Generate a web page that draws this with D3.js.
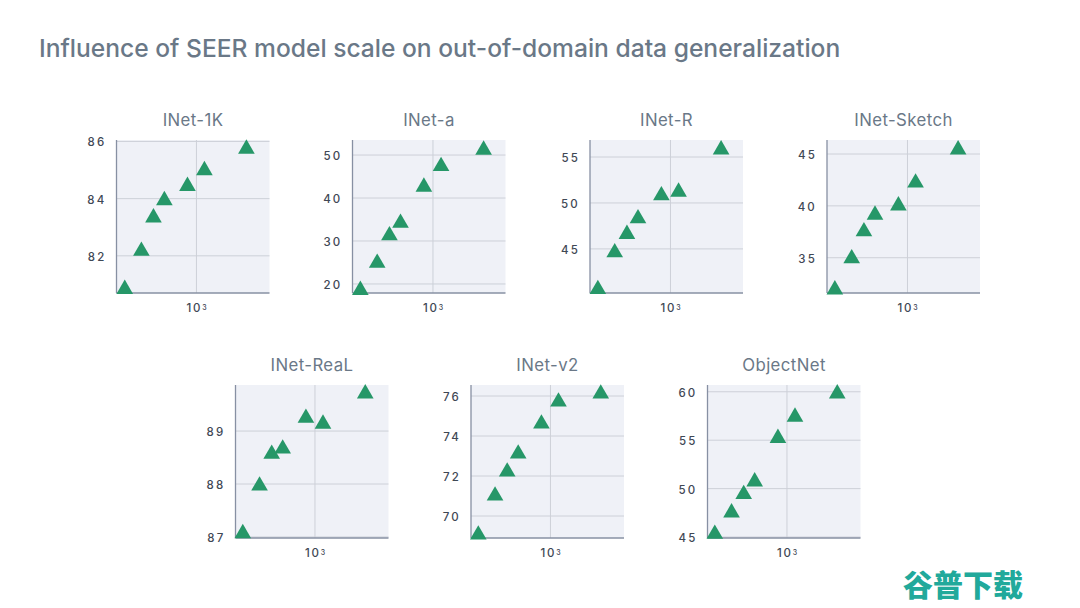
<!DOCTYPE html>
<html>
<head>
<meta charset="utf-8">
<script src="https://cdn.jsdelivr.net/npm/d3@7"></script>
<style>
  html, body { margin: 0; background: #fff; }
  text { font-family: Inter, "Noto Sans", sans-serif; }
</style>
</head>
<body>
<svg width="1080" height="608"></svg>
<script>
const svg = d3.select("svg");

// model flops, same for every panel
const flops = [370, 466, 551, 641, 883, 1117, 2000];

const names = ["INet-1K", "INet-a", "INet-R", "INet-Sketch", "INet-ReaL", "INet-v2", "ObjectNet"];

// accuracy
const inet1k = [80.9, 82.23, 83.4, 84, 84.5, 85.05, 85.8];
const ineta = [19, 25.3, 31.7, 34.6, 43, 47.8, 51.6];
const inetR = [40.8, 44.8, 46.8, 48.5, 51, 51.4, 56];
const inetSketch = [32.1, 35.1, 37.7, 39.3, 40.2, 42.4, 45.6];
const inetReal = [87.1, 88, 88.6, 88.7, 89.28, 89.17, 89.74];
const inetV2 = [69.15, 71.1, 72.3, 73.2, 74.7, 75.8, 76.2];
const objectNet = [45.5, 47.7, 49.6, 50.9, 55.4, 57.6, 60];

const series = [inet1k, ineta, inetR, inetSketch, inetReal, inetV2, objectNet];

const yDomains = [[80.7, 86.05], [17.9, 53.5], [40.2, 56.85], [31.6, 46.35], [86.98, 89.87], [68.9, 76.55], [44.9, 60.7]];
const yTicks = [[82, 84, 86], [20, 30, 40, 50], [45, 50, 55], [35, 40, 45], [87, 88, 89], [70, 72, 74, 76], [45, 50, 55, 60]];

const xDomain = [330, 2755];
const xTick = [1000];

// panel top left corners
const panelX = [116.5, 352.5, 590, 827, 235.5, 471, 707.5];
const panelY = [140, 140, 140, 140, 385, 385, 385];
const size = 153;
// the panels are not quite the same x scale in the source image
const xRanges = [[0, 153], [-0.5, 154.5], [-0.5, 154.5], [-0.5, 154.5], [-1, 153], [-1, 153], [-1, 153]];

svg.append("text")
    .attr("x", 39)
    .attr("y", 57)
    .attr("fill", "#6a7887")
    .style("font-size", "24.6px")
    .style("font-weight", 500)
    .text("Influence of SEER model scale on out-of-domain data generalization");

const triangle = d3.symbol().type(d3.symbolTriangle).size(120);

names.forEach(function(name, i){
  const g = svg.append("g").attr("transform", `translate(${panelX[i]},${panelY[i]})`);

  const x = d3.scaleLog().domain(xDomain).range(xRanges[i]);
  const y = d3.scaleLinear().domain(yDomains[i]).range([size, 0]);

  g.append("rect")
      .attr("width", size)
      .attr("height", size)
      .attr("fill", "#eff1f7");

  // grid
  g.selectAll("line.h")
    .data(yTicks[i])
    .join("line")
      .attr("class", "h")
      .attr("x1", 0)
      .attr("x2", size)
      .attr("y1", d => y(d))
      .attr("y2", d => y(d))
      .style("stroke", "#cdd0d8")
      .style("stroke-width", 1);

  g.selectAll("line.v")
    .data(xTick)
    .join("line")
      .attr("class", "v")
      .attr("x1", d => x(d))
      .attr("x2", d => x(d))
      .attr("y1", 0)
      .attr("y2", size)
      .style("stroke", "#cdd0d8")
      .style("stroke-width", 1);

  // axis lines
  g.append("line")
      .attr("x1", 0).attr("x2", 0)
      .attr("y1", 0).attr("y2", size)
      .style("stroke", "#8790a3")
      .style("stroke-width", 1.3);
  g.append("line")
      .attr("x1", 0).attr("x2", size)
      .attr("y1", size).attr("y2", size)
      .style("stroke", "#8790a3")
      .style("stroke-width", 1.3);

  // tick labels
  g.selectAll("text.yt")
    .data(yTicks[i])
    .join("text")
      .attr("class", "yt")
      .attr("x", -10)
      .attr("y", d => y(d) + 5)
      .attr("text-anchor", "end")
      .attr("fill", "#3f4855")
      .style("font-size", "11.5px")
      .style("font-weight", 500)
      .style("letter-spacing", "2.2px")
      .text(d => d);

  const xl = g.append("text")
      .attr("x", x(xTick[0]) + 1)
      .attr("y", size + 19)
      .attr("text-anchor", "middle")
      .attr("fill", "#3f4855")
      .style("font-size", "11.5px")
      .style("font-weight", 500)
      .style("letter-spacing", "1.8px");
  xl.append("tspan").text("10");
  xl.append("tspan").attr("dy", -2).style("font-size", "7px").text("3");

  // panel title
  g.append("text")
      .attr("x", size / 2)
      .attr("y", -14)
      .attr("text-anchor", "middle")
      .attr("fill", "#6a7887")
      .style("font-size", "16.8px")
      .style("letter-spacing", "0.4px")
      .text(name);

  g.selectAll("path")
    .data(series[i])
    .join("path")
      .attr("d", triangle)
      .attr("transform", (d, j) => `translate(${x(flops[j])},${y(d) + 1.8})`)
      .attr("fill", "#269768");
});

// watermark
svg.append("text")
    .attr("x", 963)
    .attr("y", 596)
    .attr("text-anchor", "middle")
    .attr("fill", "#21a99b")
    .style("font-family", '"Noto Sans CJK SC"')
    .style("font-size", "30px")
    .style("font-weight", 900)
    .text("谷普下载");
</script>
</body>
</html>
